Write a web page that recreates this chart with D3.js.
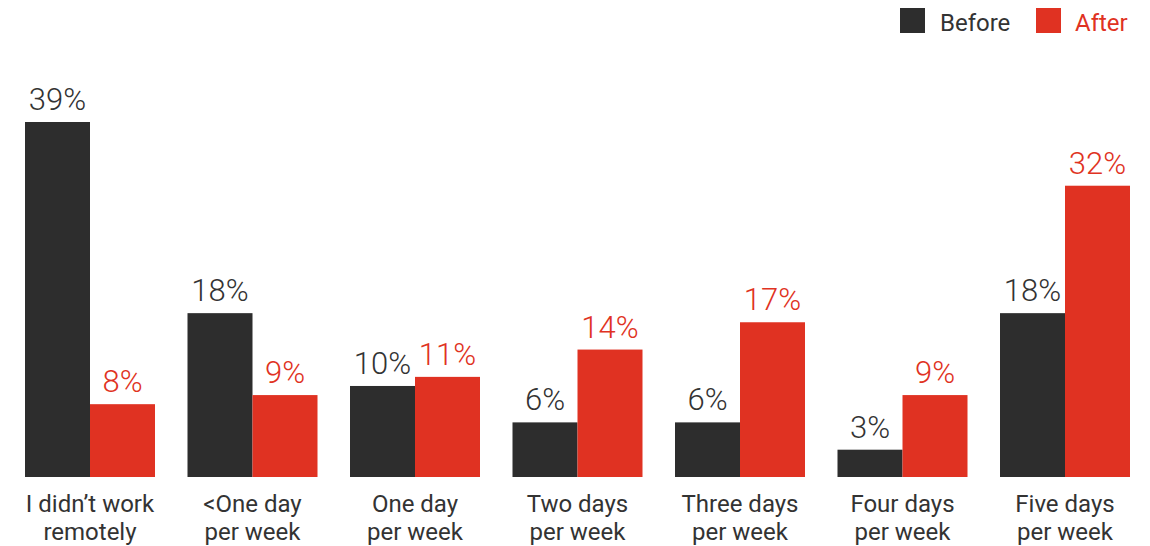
<!DOCTYPE html>
<html>
<head>
<meta charset="utf-8">
<script src="https://cdn.jsdelivr.net/npm/d3@7"></script>
<style>
	body { margin: 0; background: #fff; }
	text { font-family: "Helvetica Neue", Roboto, "Liberation Sans", sans-serif; }
</style>
</head>
<body>
<div id="chart-area"></div>
<script>

// data
let categories = [
	["I didn\u2019t work", "remotely"],
	["<One day", "per week"],
	["One day", "per week"],
	["Two days", "per week"],
	["Three days", "per week"],
	["Four days", "per week"],
	["Five days", "per week"]
];
let before = [39, 18, 10, 6, 6, 3, 18];
let after = [8, 9, 11, 14, 17, 9, 32];
let seriesNames = ["Before", "After"];

let colors = {Before: "#2d2d2d", After: "#e03222"};
let textColors = {Before: "#333333", After: "#e03222"};

let width = 1150;
let height = 546;

let svg = d3.select("#chart-area").append("svg")
	.attr("width", width)
	.attr("height", height);

// scales
let x = d3.scaleBand()
	.domain(d3.range(categories.length))
	.range([25, 1130])
	.paddingInner(0.2)
	.paddingOuter(0);

let xSub = d3.scaleBand()
	.domain(seriesNames)
	.range([0, x.bandwidth()]);

let y = d3.scaleLinear()
	.domain([0, 39])
	.range([477, 122]);

// build rows
let rows = [];
categories.forEach((c, i) => {
	rows.push({i: i, series: "Before", value: before[i]});
	rows.push({i: i, series: "After", value: after[i]});
});

// bars
svg.selectAll(".bar")
	.data(rows)
	.enter()
	.append("rect")
	.attr("class", "bar")
	.attr("x", d => x(d.i) + xSub(d.series))
	.attr("y", d => y(d.value))
	.attr("width", xSub.bandwidth())
	.attr("height", d => y(0) - y(d.value))
	.attr("fill", d => colors[d.series]);

// value labels
svg.selectAll(".value-label")
	.data(rows)
	.enter()
	.append("text")
	.attr("class", "value-label")
	.attr("x", d => x(d.i) + xSub(d.series) + xSub.bandwidth() / 2)
	.attr("y", d => y(d.value) - 12)
	.attr("text-anchor", "middle")
	.attr("font-size", 31)
	.attr("font-weight", 300)
	.attr("fill", d => textColors[d.series])
	.text(d => d.value + "%");

// category labels
let catLabels = svg.selectAll(".cat-label")
	.data(categories)
	.enter()
	.append("text")
	.attr("class", "cat-label")
	.attr("text-anchor", "middle")
	.attr("font-size", 24)
	.attr("fill", "#333");

catLabels.each(function (lines, i) {
	d3.select(this).selectAll("tspan")
		.data(lines)
		.enter()
		.append("tspan")
		.attr("x", x(i) + x.bandwidth() / 2)
		.attr("y", (d, j) => 512 + j * 28)
		.text(d => d);
});

// legend
let legendX = [900, 1036];
let legend = svg.selectAll(".legend")
	.data(seriesNames)
	.enter()
	.append("g")
	.attr("class", "legend")
	.attr("transform", (d, i) => "translate(" + legendX[i] + ",8)");

legend.append("rect")
	.attr("width", 25)
	.attr("height", 25)
	.attr("fill", d => colors[d]);

legend.append("text")
	.attr("x", d => d === "Before" ? 40 : 39)
	.attr("y", 23)
	.attr("font-size", 24)
	.attr("fill", d => textColors[d])
	.text(d => d);

</script>
</body>
</html>
